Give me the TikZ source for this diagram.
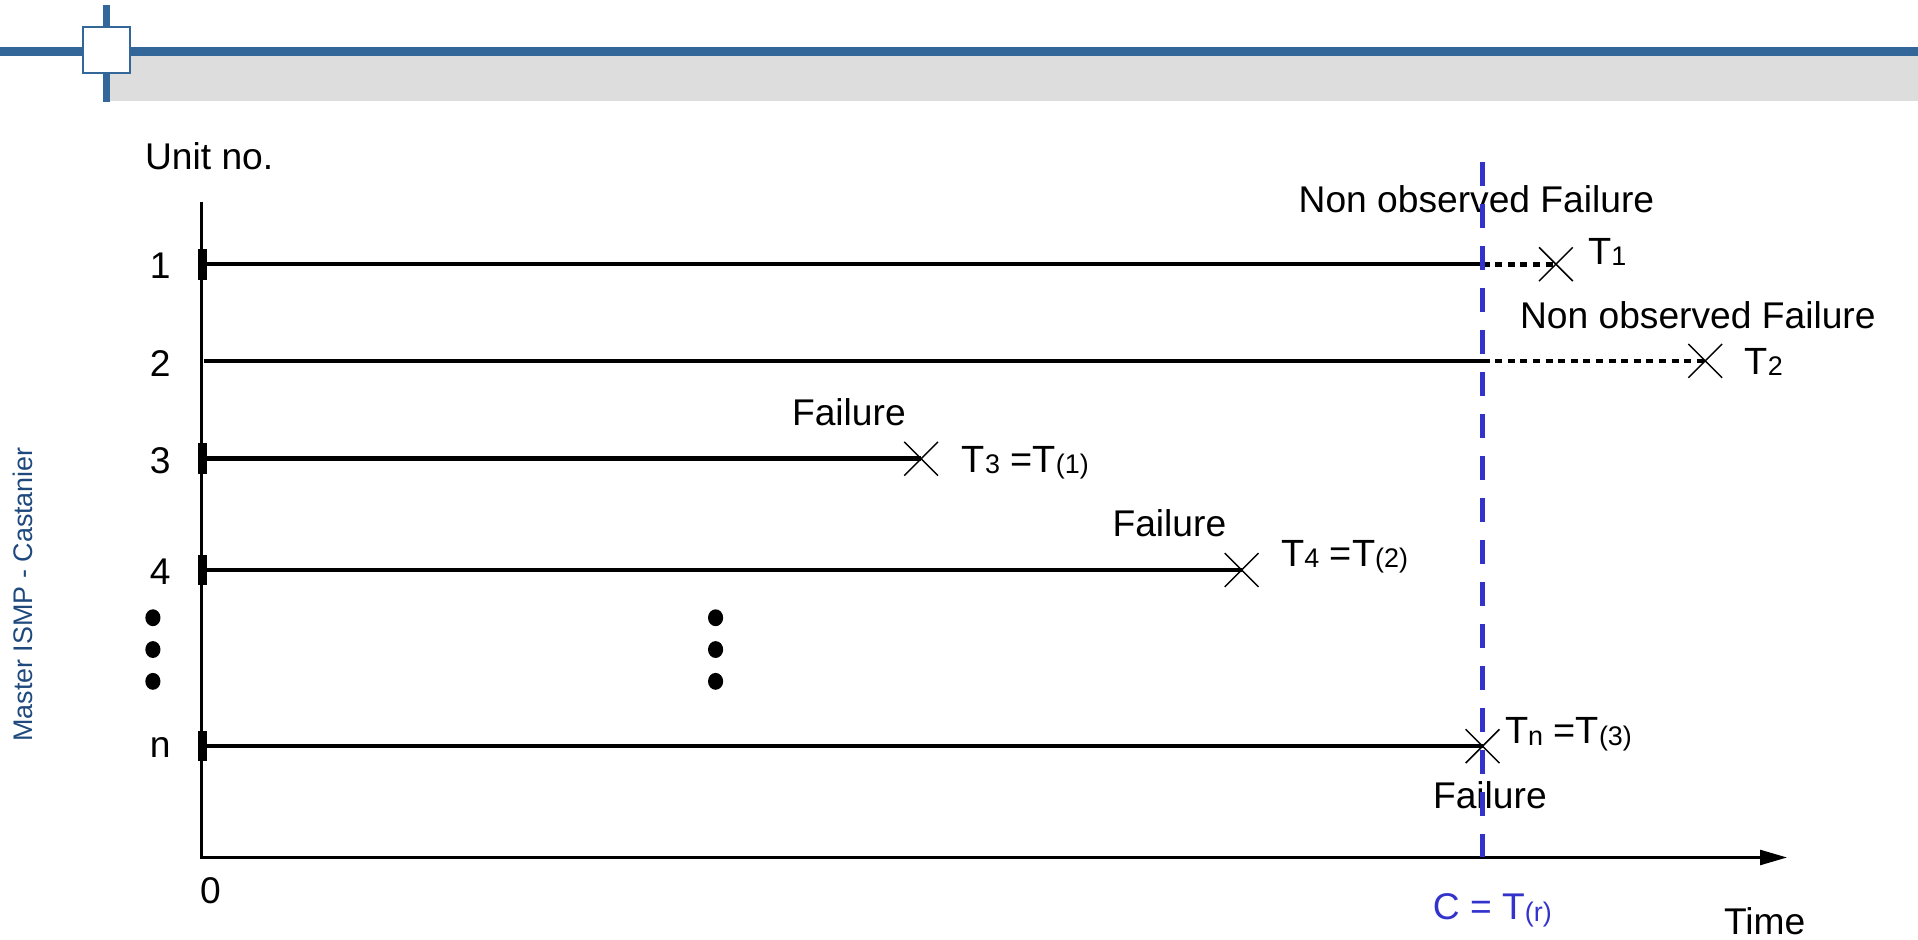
\documentclass[tikz,border=0pt]{standalone}
\usepackage{fontspec}
\setmainfont{Liberation Sans}
\usetikzlibrary{arrows.meta,shapes.misc,shapes.geometric}
\definecolor{hdrblue}{RGB}{51,102,153}
\definecolor{hdrgrey}{RGB}{221,221,221}
\definecolor{cblue}{RGB}{51,51,204}
\definecolor{sideblue}{RGB}{31,73,125}
\newcommand{\sbs}[1]{\raisebox{-0.6pt}{\fontsize{11}{12}\selectfont #1}}
\begin{document}
\begin{tikzpicture}[x=0.5pt,y=-0.5pt, font=\fontsize{15.2}{18}\selectfont,
  lbl/.style={inner sep=0pt, anchor=center},
  tlbl/.style={inner sep=0pt, anchor=base west, font=\fontsize{15.5}{18}\selectfont},
  unitline/.style={line width=1.85pt},
  obsline/.style={line width=1.9pt, dash pattern=on 2.9pt off 2.25pt},
  ticksty/.style={fill=black, minimum width=3.7pt, minimum height=12.5pt, inner sep=0pt},
  fail/.style={cross out, draw, minimum size=13.2pt, inner sep=0pt, line width=0.6pt},
  dotsty/.style={ellipse, fill=black, inner sep=0pt, minimum width=6.2pt, minimum height=6.9pt},
  censor/.style={cblue, line width=2pt, dash pattern=on 9.8pt off 7.35pt}]
\useasboundingbox (0,0) rectangle (1568,768);
% header
\fill[hdrgrey] (90,45.8) rectangle (1568,82.6);
\fill[hdrblue] (0,38.4) rectangle (1568,45.8);
\fill[hdrblue] (84.2,4) rectangle (90,83);
\filldraw[fill=white, draw=hdrblue, line width=0.8pt] (68,22) rectangle (106,60);
% side text
\node[lbl, rotate=90, text=sideblue, font=\fontsize{11}{13}\selectfont] (side) at (19,486) {Master ISMP - Castanier};
% axes
\coordinate (ytop) at (165,165);
\coordinate (O) at (165,701);
\coordinate (xend) at (1461,701);
\draw[line width=1.25pt, -{Triangle[length=11pt,width=6pt]}] (ytop) -- (O) -- (xend);
\node[lbl] (unit) at (171,128) {Unit no.};
\node[lbl] (zero) at (172,728) {0};
\node[inner sep=0pt, anchor=west] (time) at (1409,753) {Time};
% row labels
\node[lbl] (l1) at (131,217) {1};
\node[lbl] (l2) at (131,297) {2};
\node[lbl] (l3) at (131,377) {3};
\node[lbl] (l4) at (131,467) {4};
\node[lbl] (ln) at (131,611) {n};
% ticks
\node[ticksty] (k1) at (165.5,216) {};
\node[ticksty] (k3) at (165.5,375) {};
\node[ticksty] (k4) at (165.5,466) {};
\node[ticksty] (kn) at (165.5,610) {};
% crosses
\node[fail] (x1) at (1272,216) {};
\node[fail] (x2) at (1394,295) {};
\node[fail] (x3) at (753,375) {};
\node[fail] (x4) at (1015,466) {};
\node[fail] (xn) at (1212,610) {};
% cut points
\coordinate (c1) at (1212,216);
\coordinate (c2) at (1212,295);
\coordinate (s2) at (167,295);
% lines
\draw[unitline] (k1.center) -- (c1);
\draw[obsline] (c1) -- (x1.center);
\draw[unitline] (s2) -- (c2);
\draw[obsline] (c2) -- (x2.center);
\draw[unitline] (k3.center) -- (x3.center);
\draw[unitline] (k4.center) -- (x4.center);
\draw[unitline] (kn.center) -- (xn.center);
% dots
\node[dotsty] (d1) at (125,505) {};
\node[dotsty] (d2) at (125,531) {};
\node[dotsty] (d3) at (125,557) {};
\node[dotsty] (d4) at (585,505) {};
\node[dotsty] (d5) at (585,531) {};
\node[dotsty] (d6) at (585,557) {};
% labels
\node[lbl] (nof1) at (1207,163) {Non observed Failure};
\node[lbl] (nof2) at (1388,258) {Non observed Failure};
\node[lbl] (f3) at (694,337) {Failure};
\node[lbl] (f4) at (956,428) {Failure};
\node[lbl] (fn) at (1218,650) {Failure};
\node[tlbl] (t1) at (1298,216) {T\sbs{1}};
\node[tlbl] (t2) at (1426,306) {T\sbs{2}};
\node[tlbl] (t3) at (786,386) {T\sbs{3} =T\sbs{(1)}};
\node[tlbl] (t4) at (1047,463) {T\sbs{4} =T\sbs{(2)}};
\node[tlbl] (tn) at (1230,608) {T\sbs{n} =T\sbs{(3)}};
\node[tlbl, text=cblue, font=\fontsize{15.2}{18}\selectfont] (cr) at (1171,752) {C = T\sbs{(r)}};
% censoring line
\coordinate (cbot) at (1212,701);
\coordinate (ctop) at (1212,130);
\draw[censor] (cbot) -- (ctop);
\end{tikzpicture}
\end{document}
